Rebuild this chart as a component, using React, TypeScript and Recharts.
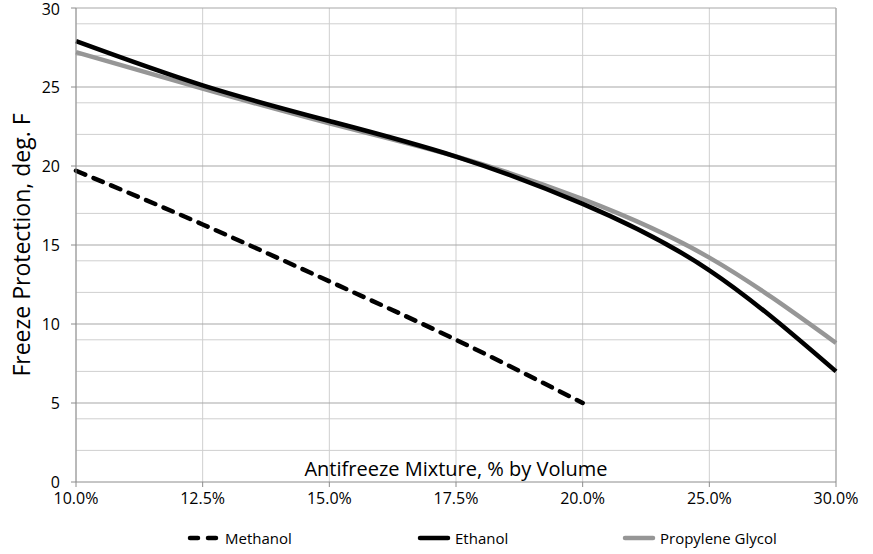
import { LineChart, Line, XAxis, YAxis, CartesianGrid, Legend, ReferenceLine } from "recharts";

const categories = ["10.0%", "12.5%", "15.0%", "17.5%", "20.0%", "25.0%", "30.0%"];
const methanol = [19.7, 16.3, 12.7, 9.0, 5.0, null, null];
const ethanol = [27.9, 25.1, 22.85, 20.6, 17.6, 13.4, 7.0];
const propyleneGlycol = [27.2, 24.9, 22.7, 20.6, 17.9, 14.2, 8.8];

const yTicks = [0, 5, 10, 15, 20, 25, 30];
const minorLines = [1, 2, 3, 4, 6, 7, 8, 9, 11, 12, 13, 14, 16, 17, 18, 19, 21, 22, 23, 24, 26, 27, 28, 29];
const majorLines = [5, 10, 15, 20, 25, 30];

const seriesInfo = [
  { name: "Methanol", color: "#000000", dash: true, left: 187 },
  { name: "Ethanol", color: "#000000", dash: false, left: 417 },
  { name: "Propylene Glycol", color: "#969696", dash: false, left: 622 },
];

const data = categories.map((c, i) => ({
  name: c,
  Methanol: methanol[i],
  Ethanol: ethanol[i],
  PropyleneGlycol: propyleneGlycol[i],
}));

const font = "'Open Sans', sans-serif";

const renderLegend = () => (
  <div style={{ position: "relative", width: 873, height: 24, fontFamily: font, fontSize: 15, color: "#000" }}>
    {seriesInfo.map((s) => (
      <div key={s.name} style={{ position: "absolute", left: s.left, top: 0, display: "flex", alignItems: "center", height: 24 }}>
        <svg width={34} height={10}>
          <line x1={3} y1={5} x2={31} y2={5} stroke={s.color} strokeWidth={4.5} strokeLinecap="round" strokeDasharray={s.dash ? "8 10" : undefined} />
        </svg>
        <span style={{ marginLeft: 4 }}>{s.name}</span>
      </div>
    ))}
  </div>
);

export default function App() {
  return (
    <div style={{ width: 873, height: 554, background: "#fff" }}>
      <style>{`body{margin:0}`}</style>
      <LineChart width={873} height={554} data={data} margin={{ top: 8, right: 37, left: 0, bottom: 18 }}>
        <CartesianGrid horizontalValues={minorLines} stroke="#cfcfcf" strokeWidth={1} />
        {majorLines.map((v) => (
          <ReferenceLine key={v} y={v} stroke="#a8a8a8" strokeWidth={1.2} />
        ))}
        <XAxis
          dataKey="name"
          stroke="#8c8c8c"
          height={30}
          tickSize={5}
          tickMargin={6}
          tick={{ fill: "#000", fontSize: 16, fontFamily: font }}
          interval={0}
          label={{ value: "Antifreeze Mixture, % by Volume", position: "top", offset: 6, fill: "#000", fontSize: 20, fontFamily: font }}
        />
        <YAxis
          domain={[0, 30]}
          ticks={yTicks}
          width={76}
          stroke="#8c8c8c"
          tickSize={5}
          tickMargin={11}
          tick={{ fill: "#000", fontSize: 16, fontFamily: font }}
          label={{ value: "Freeze Protection, deg. F", angle: -90, position: "insideLeft", offset: 22, fill: "#000", fontSize: 23, fontFamily: font, style: { textAnchor: "middle" } }}
        />
        <ReferenceLine x="30.0%" stroke="#a8a8a8" strokeWidth={1.2} />
        <Legend content={renderLegend} wrapperStyle={{ position: "absolute", left: 0, top: 526, width: 873, height: 24 }} />
        <Line type="natural" dataKey="PropyleneGlycol" name="Propylene Glycol" stroke="#969696" strokeWidth={4.5} dot={false} isAnimationActive={false} />
        <Line type="natural" dataKey="Ethanol" stroke="#000" strokeWidth={4.5} dot={false} isAnimationActive={false} />
        <Line type="natural" dataKey="Methanol" stroke="#000" strokeWidth={4.5} strokeDasharray="10 9" strokeLinecap="round" dot={false} connectNulls={false} isAnimationActive={false} />
      </LineChart>
    </div>
  );
}
